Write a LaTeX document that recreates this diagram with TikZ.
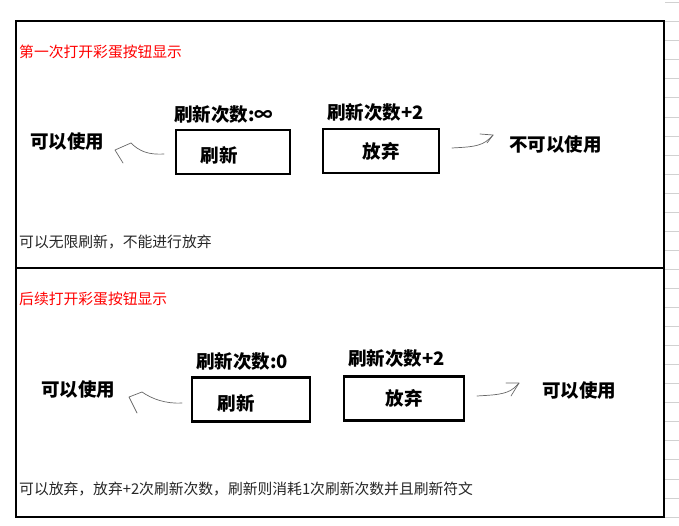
\documentclass[tikz,border=0pt]{standalone}
\usepackage{fontspec}
\usepackage{xcolor}
\usepackage{tikz}
\usetikzlibrary{calc}
\setmainfont{Noto Sans CJK SC}
\newfontfamily\cjk{Noto Sans CJK SC}

\begin{document}
\begin{tikzpicture}[x=1pt, y=-1pt,
	lbl/.style={font=\cjk\fontsize{18.5}{20}\selectfont\bfseries, inner sep=0pt},
	note/.style={font=\cjk\fontsize{14.8}{16}\selectfont, inner sep=0pt, anchor=west, text=black!85},
	title/.style={note, text=red},
	btn/.style={draw, line width=2.4pt, inner sep=0pt, minimum width=#1, minimum height=44pt},
	hand/.style={draw=black!60, line width=0.7pt, line cap=round, line join=round},
	grid line/.style={draw=black!18, line width=0.8pt}]

	\useasboundingbox (0,0) rectangle (679,526);

	\foreach \k in {0,...,27}
		\draw[grid line] (665,{2.65+19.05*\k}) -- (679,{2.65+19.05*\k});

	\draw[line width=2pt] (16,21) rectangle (664,517);
	\draw[line width=2pt] (16,268) -- (664,268);

	\coordinate (A1) at (164,154);
	\coordinate (B1) at (115,150);
	\coordinate (C1) at (452,148);
	\coordinate (D1) at (493,135);
	\coordinate (A2) at (182,403);
	\coordinate (B2) at (129,397);
	\coordinate (C2) at (477,396);
	\coordinate (D2) at (519,383);

	\node[title] (t1) at (19,52) {第一次打开彩蛋按钮显示};
	\node[btn=114] (r1) at (233,152) {};
	\node[lbl] at ($(r1)+(-14,3)$) {刷新};
	\node[btn=116] (g1) at (381,151) {\cjk\fontsize{18.5}{20}\selectfont\bfseries 放弃};
	\node[lbl, anchor=west] (n1) at (174,115) {刷新次数:∞};
	\node[lbl, anchor=west] (p1) at (327,113) {刷新次数+2};
	\node[lbl, anchor=west] (u1) at (30,142) {可以使用};
	\node[lbl, anchor=west] (v1) at (509,145) {不可以使用};
	\node[note] (m1) at (19,242) {可以无限刷新，不能进行放弃};

	\draw[hand] (A1) .. controls (148,155) and (139,151) .. (131,143) -- (B1) -- (123,163);
	\draw[hand] (C1) .. controls (468,147) and (481,147) .. (489,139) -- (D1);
	\draw[hand] (480,134) -- (D1) -- (487,143);

	\node[title] (t2) at (19,299) {后续打开彩蛋按钮显示};
	\node[btn=118] (r2) at (251,399.5) {};
	\node[lbl] at ($(r2)+(-15,4)$) {刷新};
	\node[btn=120] (g2) at (404,398.5) {\cjk\fontsize{18.5}{20}\selectfont\bfseries 放弃};
	\node[lbl, anchor=west] (n2) at (196,362) {刷新次数:0};
	\node[lbl, anchor=west] (p2) at (348,359) {刷新次数+2};
	\node[lbl, anchor=west] (u2) at (41,389) {可以使用};
	\node[lbl, anchor=west] (v2) at (542,390) {可以使用};
	\node[note] (m2) at (19,489) {可以放弃，放弃+2次刷新次数，刷新则消耗1次刷新次数并且刷新符文};

	\draw[hand] (A2) .. controls (166,404) and (152,399) .. (142,392) -- (B2) -- (137,413);
	\draw[hand] (C2) .. controls (492,395) and (506,395) .. (514,388) -- (D2);
	\draw[hand] (506,383) -- (D2) -- (511,396);
\end{tikzpicture}
\end{document}
